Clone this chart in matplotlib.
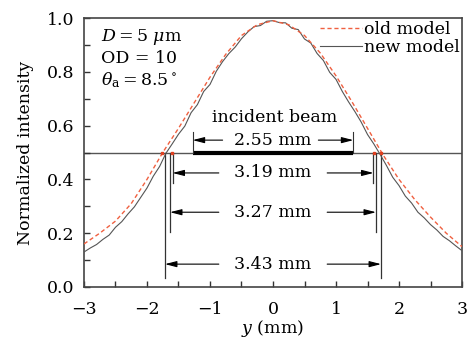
import numpy as np
import matplotlib.pyplot as plt
from matplotlib.ticker import MultipleLocator

plt.rcParams['font.family'] = ['DejaVu Serif']
plt.rcParams['mathtext.fontset'] = 'dejavuserif'

# old model (dashed)
x_old = [-3.0, -2.75, -2.5, -2.25, -2.0, -1.75, -1.5, -1.25, -1.0, -0.75, -0.5, -0.25,
         0.0, 0.25, 0.5, 0.75, 1.0, 1.25, 1.5, 1.75, 2.0, 2.25, 2.5, 2.75, 3.0]
y_old = [0.16, 0.20, 0.245, 0.31, 0.40, 0.50, 0.59, 0.685, 0.78, 0.865, 0.935, 0.975,
         0.99, 0.975, 0.935, 0.87, 0.785, 0.69, 0.59, 0.49, 0.40, 0.325, 0.26, 0.20, 0.15]

# new model (solid, slightly noisy)
x_new = [round(-3.0 + 0.1 * i, 1) for i in range(61)]
y_new = [0.13, 0.145, 0.158, 0.177, 0.193, 0.222, 0.243, 0.272, 0.298, 0.333,
         0.368, 0.412, 0.448, 0.497, 0.532, 0.568, 0.598, 0.648, 0.678, 0.727,
         0.753, 0.802, 0.838, 0.868, 0.892, 0.923, 0.948, 0.968, 0.972, 0.988,
         0.99, 0.983, 0.982, 0.962, 0.957, 0.922, 0.907, 0.868, 0.842, 0.798,
         0.772, 0.727, 0.688, 0.652, 0.613, 0.567, 0.532, 0.493, 0.452, 0.408,
         0.377, 0.338, 0.312, 0.278, 0.257, 0.232, 0.212, 0.188, 0.172, 0.153, 0.135]

# widths: label, half width, text height, bottom of the marker lines
widths = ['3.19 mm', '3.27 mm', '3.43 mm']
half_w = [1.595, 1.635, 1.715]
text_y = [0.424, 0.278, 0.085]
line_bottom = [0.385, 0.205, 0.035]
beam_half = 1.275

fig = plt.figure(figsize=(4.7, 3.38), dpi=100)
ax = fig.add_axes([0.1787, 0.1509, 0.8043, 0.7958])

ax.axhline(0.5, color='#555555', lw=1.0, zorder=1)
ax.plot(x_new, y_new, color='#555555', lw=0.8, label='new model', zorder=3)
ax.plot(x_old, y_old, color='#f06040', lw=1.0, ls=(0, (3, 2)), label='old model', zorder=4)

# incident beam
ax.plot([-beam_half, beam_half], [0.5, 0.5], color='black', lw=3, solid_capstyle='butt', zorder=2)
for s in (-1, 1):
    ax.plot([s * beam_half, s * beam_half], [0.5, 0.575], color='#333333', lw=0.8)
ax.text(0.02, 0.632, 'incident beam', ha='center', va='center', fontsize=12.5)
ax.text(0, 0.546, '2.55 mm', ha='center', va='center', fontsize=12.5)
aprops = dict(arrowstyle='-|>,head_length=0.7,head_width=0.18', color='black', lw=0.8,
              shrinkA=0, shrinkB=0)
ax.annotate('', xy=(-beam_half, 0.546), xytext=(-0.8, 0.546), arrowprops=aprops)
ax.annotate('', xy=(beam_half, 0.546), xytext=(0.72, 0.546), arrowprops=aprops)

for lab, hw, ty, lb in zip(widths, half_w, text_y, line_bottom):
    for s in (-1, 1):
        ax.plot([s * hw, s * hw], [0.5, lb], color='#333333', lw=0.9)
    ax.text(0, ty, lab, ha='center', va='center', fontsize=12.5)
    ax.annotate('', xy=(-hw, ty), xytext=(-0.86, ty), arrowprops=aprops)
    ax.annotate('', xy=(hw, ty), xytext=(0.86, ty), arrowprops=aprops)

ax.plot([-1.76, -1.6, 1.6, 1.72], [0.5, 0.5, 0.5, 0.5], 's', color='#e04020', ms=2.0, zorder=5)

ax.text(-2.73, 0.93, r'$D=5\ \mu$m', ha='left', va='center', fontsize=12.5)
ax.text(-2.73, 0.851, 'OD = 10', ha='left', va='center', fontsize=12.5)
ax.text(-2.73, 0.77, r'$\theta_{\rm a}=8.5^\circ$', ha='left', va='center', fontsize=12.5)

leg = ax.legend(handles=ax.get_lines()[2:0:-1], loc='upper right', frameon=False,
                fontsize=12.5, handlelength=2.4, handletextpad=0.1, labelspacing=0.1,
                borderaxespad=0.05, borderpad=0.1)

ax.set_xlim(-3, 3)
ax.set_ylim(0, 1.0)
ax.xaxis.set_major_locator(MultipleLocator(1))
ax.xaxis.set_minor_locator(MultipleLocator(0.5))
ax.yaxis.set_major_locator(MultipleLocator(0.2))
ax.yaxis.set_minor_locator(MultipleLocator(0.1))
ax.tick_params(which='both', direction='in', length=4, width=1, colors='#333333',
               labelsize=12.5, labelcolor='black', top=False, right=False)
ax.tick_params(axis='x', pad=10)
ax.tick_params(axis='y', pad=7)
ax.set_yticks([0.0, 0.2, 0.4, 0.6, 0.8, 1.0])
ax.set_yticklabels(['0.0', '0.2', '0.4', '0.6', '0.8', '1.0'])
for sp in ax.spines.values():
    sp.set_linewidth(1.2)
    sp.set_color('#444444')

ax.set_xlabel(r'$y$ (mm)', fontsize=12.5, labelpad=0)
ax.set_ylabel('Normalized intensity', fontsize=12.5, labelpad=9)

fig.savefig('out.png', dpi=100)
